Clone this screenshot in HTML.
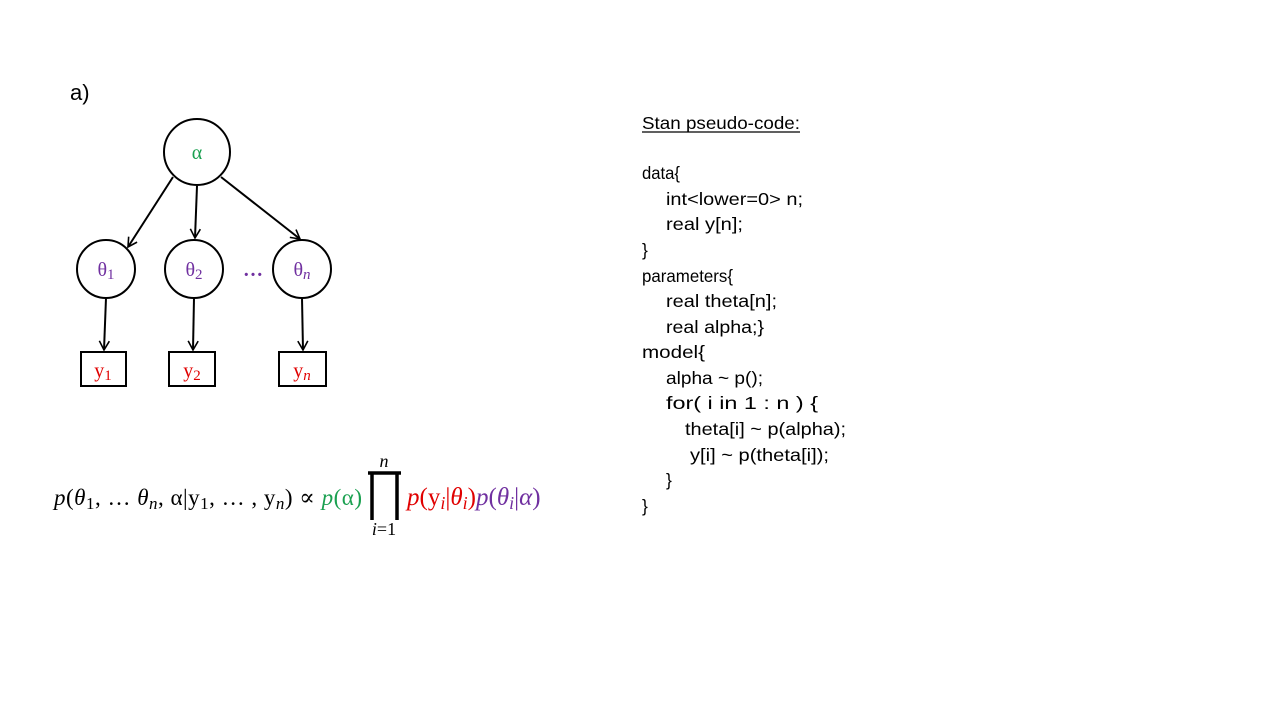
<!DOCTYPE html>
<html><head><meta charset="utf-8"><style>
body{margin:0;background:#fff;}
svg{display:block}
.c{font-family:"Liberation Sans","DejaVu Sans",sans-serif;font-size:17.5px;fill:#000}
.m{font-family:"Liberation Serif","DejaVu Serif",serif;font-size:23px}
</style></head><body>
<svg width="1280" height="720" viewBox="0 0 1280 720" xmlns="http://www.w3.org/2000/svg">
<defs><marker id="a" markerWidth="12" markerHeight="12" refX="10" refY="6" orient="auto" markerUnits="userSpaceOnUse"><path d="M1,1 L10,6 L1,11" fill="none" stroke="#000" stroke-width="1.6"/></marker></defs>
<text x="70" y="100" font-family="Liberation Sans,sans-serif" font-size="22">a)</text>
<g fill="none" stroke="#000" stroke-width="2">
<circle cx="197" cy="152" r="33"/>
<circle cx="106" cy="269" r="29"/>
<circle cx="194" cy="269" r="29"/>
<circle cx="302" cy="269" r="29"/>
<rect x="81" y="352" width="45" height="34"/>
<rect x="169" y="352" width="46" height="34"/>
<rect x="279" y="352" width="47" height="34"/>
<line x1="173" y1="177" x2="128" y2="247" marker-end="url(#a)"/>
<line x1="197" y1="186" x2="195" y2="238" marker-end="url(#a)"/>
<line x1="221" y1="177" x2="300" y2="239" marker-end="url(#a)"/>
<line x1="106" y1="298" x2="104" y2="350" marker-end="url(#a)"/>
<line x1="194" y1="298" x2="193" y2="350" marker-end="url(#a)"/>
<line x1="302" y1="298" x2="303" y2="350" marker-end="url(#a)"/>
</g>
<g font-family="Liberation Serif,DejaVu Serif,serif" font-size="20">
<text x="197" y="159" text-anchor="middle" fill="#1aa050">α</text>
<text x="106" y="276" text-anchor="middle" fill="#7030a0">θ<tspan font-size="15" dy="3">1</tspan></text>
<text x="194" y="276" text-anchor="middle" fill="#7030a0">θ<tspan font-size="15" dy="3">2</tspan></text>
<text x="302" y="276" text-anchor="middle" fill="#7030a0">θ<tspan font-size="15" dy="3" font-style="italic">n</tspan></text>
<text x="253" y="276" text-anchor="middle" fill="#7030a0" font-weight="bold">…</text>
<text x="103" y="377" text-anchor="middle" fill="#e00000">y<tspan font-size="15" dy="3">1</tspan></text>
<text x="192" y="377" text-anchor="middle" fill="#e00000">y<tspan font-size="15" dy="3">2</tspan></text>
<text x="302" y="377" text-anchor="middle" fill="#e00000">y<tspan font-size="15" dy="3" font-style="italic">n</tspan></text>
</g>
<g class="m">
<text x="54" y="505" textLength="308" lengthAdjust="spacing"><tspan font-style="italic">p</tspan>(<tspan font-style="italic">θ</tspan><tspan font-size="17" dy="4">1</tspan><tspan dy="-4">, … </tspan><tspan font-style="italic">θ</tspan><tspan font-size="17" font-style="italic" dy="4">n</tspan><tspan dy="-4">, α|y</tspan><tspan font-size="17" dy="4">1</tspan><tspan dy="-4">, … , y</tspan><tspan font-style="italic" font-size="17" dy="4">n</tspan><tspan dy="-4">) ∝ </tspan><tspan fill="#1aa050"><tspan font-style="italic">p</tspan>(α)</tspan></text>
<text x="407" y="505" fill="#e00000" font-size="25"><tspan font-style="italic">p</tspan>(y<tspan font-style="italic" font-size="18" dy="4">i</tspan><tspan dy="-4">|</tspan><tspan font-style="italic">θ</tspan><tspan font-style="italic" font-size="18" dy="4">i</tspan><tspan dy="-4">)</tspan><tspan fill="#7030a0"><tspan font-style="italic">p</tspan>(<tspan font-style="italic">θ</tspan><tspan font-style="italic" font-size="18" dy="4">i</tspan><tspan dy="-4">|</tspan><tspan font-style="italic">α</tspan>)</tspan></text>
<text x="384" y="467" text-anchor="middle" font-size="18" font-style="italic">n</text>
<text x="384" y="535" text-anchor="middle" font-size="18"><tspan font-style="italic">i</tspan>=1</text>
</g>
<path d="M368,473 H401 M372,473 V520 M397,473 V520" stroke="#000" stroke-width="3.5" fill="none"/>
<g class="c">
<text x="642" y="129" textLength="158" lengthAdjust="spacingAndGlyphs">Stan pseudo-code:</text>
<line x1="642" y1="132" x2="800" y2="132" stroke="#000" stroke-width="1.2"/>
<text x="642" y="179" textLength="38" lengthAdjust="spacingAndGlyphs">data{</text>
<text x="666" y="205" textLength="137" lengthAdjust="spacingAndGlyphs">int&lt;lower=0&gt; n;</text>
<text x="666" y="230" textLength="77" lengthAdjust="spacingAndGlyphs">real y[n];</text>
<text x="642" y="256">}</text>
<text x="642" y="282" textLength="91" lengthAdjust="spacingAndGlyphs">parameters{</text>
<text x="666" y="307" textLength="111" lengthAdjust="spacingAndGlyphs">real theta[n];</text>
<text x="666" y="333" textLength="98" lengthAdjust="spacingAndGlyphs">real alpha;}</text>
<text x="642" y="358" textLength="63" lengthAdjust="spacingAndGlyphs">model{</text>
<text x="666" y="384" textLength="97" lengthAdjust="spacingAndGlyphs">alpha ~ p();</text>
<text x="666" y="409" textLength="152" lengthAdjust="spacingAndGlyphs">for( i in 1 : n ) {</text>
<text x="685" y="435" textLength="161" lengthAdjust="spacingAndGlyphs">theta[i] ~ p(alpha);</text>
<text x="690" y="461" textLength="139" lengthAdjust="spacingAndGlyphs">y[i] ~ p(theta[i]);</text>
<text x="666" y="486">}</text>
<text x="642" y="512">}</text>
</g>
</svg>
</body></html>
